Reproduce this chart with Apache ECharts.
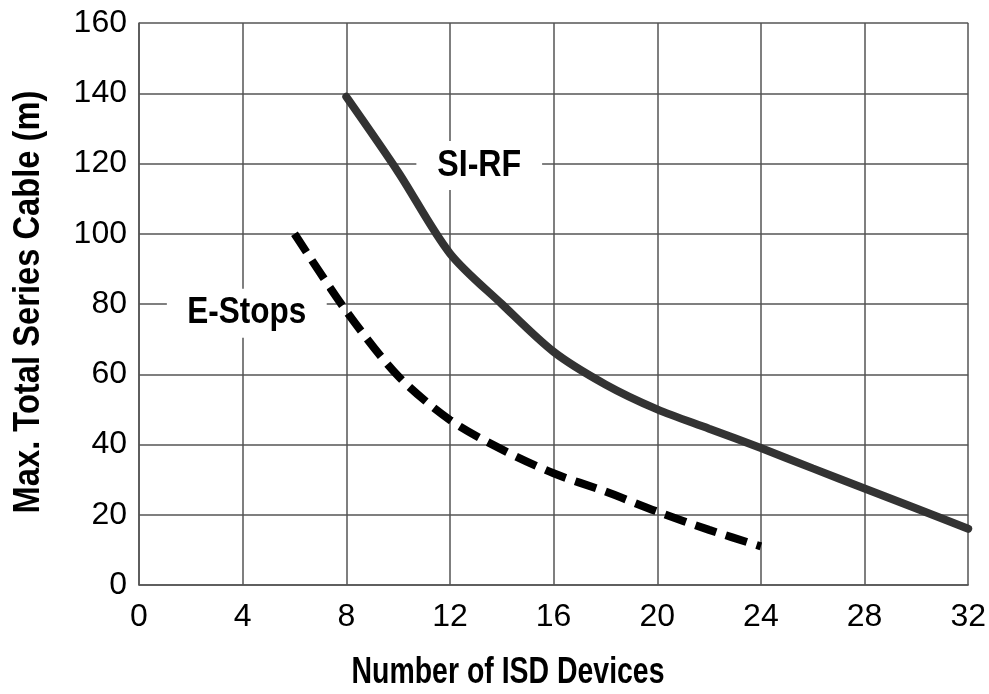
<!DOCTYPE html>
<html>
<head>
<meta charset="utf-8">
<script src="https://cdn.jsdelivr.net/npm/echarts@6/dist/echarts.min.js"></script>
<style>
  html, body { margin: 0; padding: 0; background: #fff; }
  #chart { width: 989px; height: 694px; }
</style>
</head>
<body>
<div id="chart"></div>
<script>
// values
const xTicks = [0, 4, 8, 12, 16, 20, 24, 28, 32];
const yTicks = [0, 20, 40, 60, 80, 100, 120, 140, 160];

const siRfX = [8, 10, 12, 14, 16, 18, 20, 22, 24, 26, 28, 30, 32];
const siRfY = [139, 117.6, 94.4, 80, 66.4, 57.1, 50, 44.5, 39, 33.2, 27.5, 21.8, 16];

const eStopsX = [6, 8, 10, 12, 14, 16, 18, 20, 22, 24];
const eStopsY = [100, 78, 59.5, 47, 38.6, 31.8, 26.6, 20.9, 15.7, 11];

const xTitle = 'Number of ISD Devices';
const yTitle = 'Max. Total Series Cable (m)';

const font = '"Liberation Sans", Arial, sans-serif';
const boldFont = 'bold 37px ' + font;

// the original uses a narrow face, so squeeze the bold texts to its width
const ctx = document.createElement('canvas').getContext('2d');
function squeeze(text, target) {
    ctx.font = boldFont;
    return target / ctx.measureText(text).width;
}

const chart = echarts.init(document.getElementById('chart'));
chart.setOption({
    animation: false,
    grid: {left: 139, right: 20, top: 23, bottom: 109},
    xAxis: {
        type: 'value',
        min: 0, max: 32, interval: 4,
        axisLine: {show: true, lineStyle: {color: '#555', width: 1.5}},
        axisTick: {show: false},
        axisLabel: {fontFamily: font, fontSize: 32, color: '#000', margin: 16,
            formatter: v => xTicks.includes(v) ? String(v) : ''},
        splitLine: {show: true, lineStyle: {color: '#555', width: 1.5}}
    },
    yAxis: {
        type: 'value',
        min: 0, max: 160, interval: 20,
        axisLine: {show: true, lineStyle: {color: '#555', width: 1.5}},
        axisTick: {show: false},
        axisLabel: {fontFamily: font, fontSize: 32, color: '#000', margin: 12,
            padding: [10, 0, 0, 0],
            formatter: v => yTicks.includes(v) ? String(v) : ''},
        splitLine: {show: true, lineStyle: {color: '#555', width: 1.5}}
    },
    series: [
        {
            name: 'SI-RF',
            type: 'line',
            data: siRfX.map((x, i) => [x, siRfY[i]]),
            smooth: 0.3,
            showSymbol: false,
            lineStyle: {color: '#333', width: 8, cap: 'round'},
            z: 3
        },
        {
            name: 'E-Stops',
            type: 'line',
            data: eStopsX.map((x, i) => [x, eStopsY[i]]),
            smooth: 0.3,
            showSymbol: false,
            lineStyle: {color: '#000', width: 8, type: [22, 10]},
            z: 3
        }
    ]
});

// series labels sit in data space, boxed in white over the grid
const siRfPos = chart.convertToPixel({gridIndex: 0}, [13.13, 119.4]);
const ePos = chart.convertToPixel({gridIndex: 0}, [4.16, 77.4]);

function label(text, pos, width, padding) {
    return {
        type: 'text',
        x: pos[0], y: pos[1],
        scaleX: squeeze(text, width),
        z: 10,
        style: {
            text: text, font: boldFont, fill: '#000',
            align: 'center', verticalAlign: 'middle',
            backgroundColor: '#fff', padding: padding
        }
    };
}

chart.setOption({
    graphic: [
        label('SI-RF', siRfPos, 84, [6, 24]),
        label('E-Stops', ePos, 119, [6, 24]),
        {
            type: 'text', x: 508, y: 673,
            scaleX: squeeze(xTitle, 313),
            style: {text: xTitle, font: boldFont, fill: '#000', align: 'center', verticalAlign: 'middle'}
        },
        {
            type: 'text', x: 29, y: 302, rotation: Math.PI / 2,
            scaleX: squeeze(yTitle, 423),
            style: {text: yTitle, font: boldFont, fill: '#000', align: 'center', verticalAlign: 'middle'}
        }
    ]
});
</script>
</body>
</html>
